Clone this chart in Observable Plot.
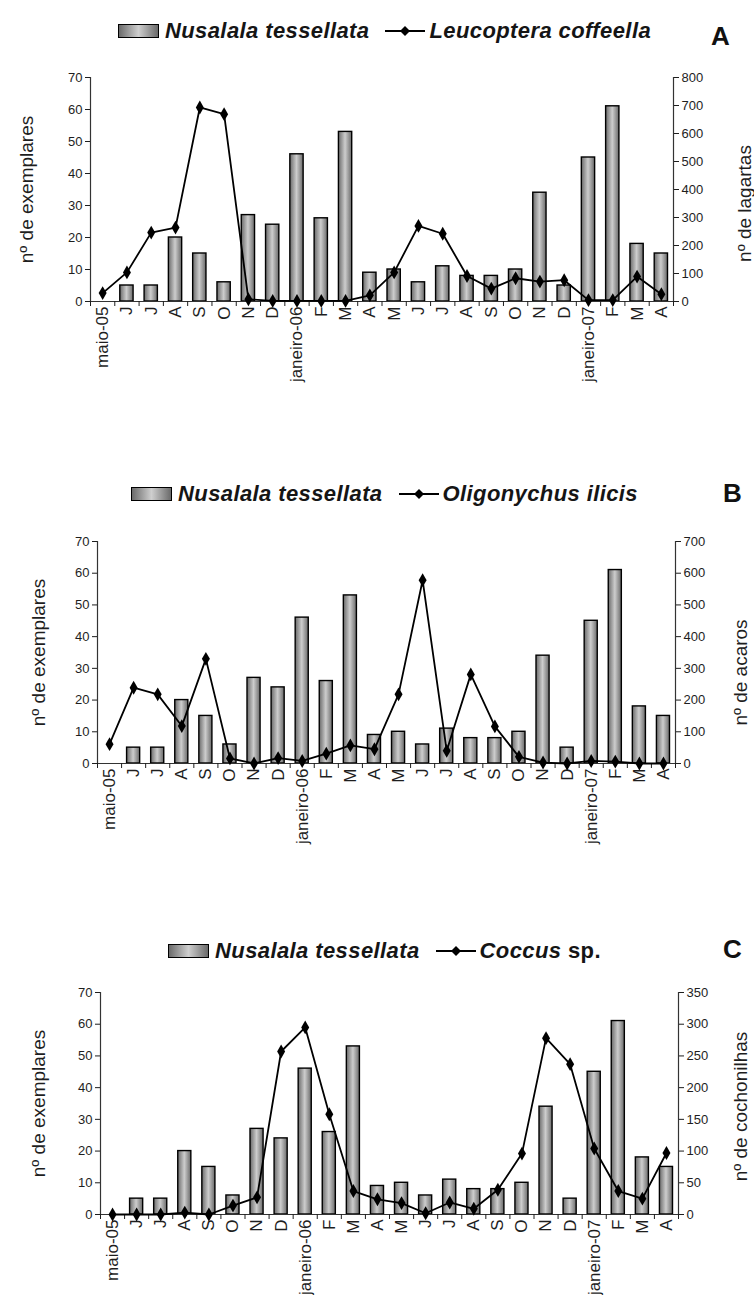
<!DOCTYPE html>
<html>
<head>
<meta charset="utf-8">
<script src="https://cdn.jsdelivr.net/npm/d3@7"></script>
<script src="https://cdn.jsdelivr.net/npm/@observablehq/plot@0.6"></script>
<style>
  body { margin: 0; background: #fff; font-family: "Liberation Sans", Arial, sans-serif; color: #1a1a1a; }
  #root { position: relative; width: 754px; height: 1295px; overflow: hidden; background: #fff; }
  .legend { position: absolute; left: 0; width: 769px; height: 30px; display: flex; justify-content: center; align-items: center;
            font-weight: bold; font-style: italic; font-size: 22px; letter-spacing: 0.4px; color: #151515; white-space: nowrap; }
  .swatch { width: 39px; height: 12px; border: 1.5px solid #000; margin-right: 6px;
            background: linear-gradient(to right, #6a6a6a, #cfcfcf 50%, #6a6a6a); }
  .lsym { margin: 0 4px 0 16px; }
  .letter { position: absolute; font-weight: bold; font-size: 26px; color: #111; }
  .panel { position: absolute; left: 0; }
  .normal { font-style: normal; }
</style>
</head>
<body>
<div id="root"></div>
<script>
// ---- data ----
const months = ["maio-05","J","J","A","S","O","N","D","janeiro-06","F","M","A","M","J","J","A","S","O","N","D","janeiro-07","F","M","A"];
const nusalala = [0,5,5,20,15,6,27,24,46,26,53,9,10,6,11,8,8,10,34,5,45,61,18,15];
const leucoptera = [30,104,246,264,693,669,8,2,2,2,2,22,104,270,242,91,46,83,71,76,5,5,89,26];
const oligonychus = [61,239,218,118,330,16,0,17,8,31,57,45,218,578,40,281,117,21,3,0,8,6,0,0];
const coccus = [0,0,0,3,0,14,27,257,295,158,37,24,18,2,19,9,39,96,278,237,104,37,25,97];

const barName = "Nusalala tessellata";
const leftTitle = "nº de exemplares";

const panels = [
  { letter: "A", pestHtml: "Leucoptera coffeella", values: leucoptera, max: 800, step: 100, rightTitle: "nº de lagartas",
    legendY: 31, letterX: 711, letterY: 37, top: 60, mt: 17, plotH: 224, mb: 100, left: 90, right: 673, ltx: 26, rtx: 744, rdy: 14 },
  { letter: "B", pestHtml: "Oligonychus ilicis", values: oligonychus, max: 700, step: 100, rightTitle: "nº de acaros",
    legendY: 494, letterX: 723, letterY: 494, top: 520, mt: 21, plotH: 222, mb: 95, left: 97, right: 675, ltx: 38, rtx: 740, rdy: 20 },
  { letter: "C", pestHtml: "Coccus <span class='normal'>sp.</span>", values: coccus, max: 350, step: 50, rightTitle: "nº de cochonilhas",
    legendY: 951, letterX: 723, letterY: 950, top: 975, mt: 17, plotH: 222, mb: 80, left: 100, right: 678, ltx: 38, rtx: 740, rdy: 3 }
];

const root = document.getElementById("root");
const W = 754;
const FONT = '"Liberation Sans", Arial, sans-serif';

panels.forEach((cfg, pi) => {
  // legend
  const lg = document.createElement("div");
  lg.className = "legend";
  lg.style.top = (cfg.legendY - 15) + "px";
  lg.innerHTML = `<span class="swatch"></span><span>${barName}</span>` +
    `<svg class="lsym" width="40" height="14"><line x1="0" y1="7" x2="40" y2="7" stroke="#000" stroke-width="1.8"/>` +
    `<path d="M20 2 L25 7 L20 12 L15 7 Z" fill="#000"/></svg><span>${cfg.pestHtml}</span>`;
  root.appendChild(lg);

  const lt = document.createElement("div");
  lt.className = "letter";
  lt.textContent = cfg.letter;
  lt.style.left = cfg.letterX + "px";
  lt.style.top = (cfg.letterY - 16) + "px";
  root.appendChild(lt);

  const k = 70 / cfg.max;
  const data = months.map((m, i) => ({ i, m, n: nusalala[i], p: cfg.values[i] }));
  const gid = "barGrad" + pi;
  const height = cfg.mt + cfg.plotH + cfg.mb;

  const chart = Plot.plot({
    width: W,
    height,
    marginLeft: cfg.left,
    marginRight: W - cfg.right,
    marginTop: cfg.mt,
    marginBottom: cfg.mb,
    x: { domain: [0, 24], axis: null },
    y: { domain: [0, 70], axis: null },
    style: { fontFamily: FONT, background: "transparent", color: "#1e1e1e", overflow: "visible" },
    marks: [
      Plot.rectY(data.filter(d => d.n > 0), {
        x1: d => d.i, x2: d => d.i + 1, y: "n",
        insetLeft: 5.5, insetRight: 5.5,
        fill: `url(#${gid})`, stroke: "#000", strokeWidth: 1.4
      }),
      Plot.ruleX([0, 24], { stroke: "#333", strokeWidth: 1.2 }),
      Plot.ruleY([0], { stroke: "#333", strokeWidth: 1.2 }),
      Plot.axisY({ anchor: "left", ticks: d3.range(0, 71, 10), tickSize: 5, tickPadding: 3, fontSize: 13, label: null }),
      Plot.axisY({
        anchor: "right",
        ticks: d3.range(0, cfg.max + 1, cfg.step).map(v => v * 70 / cfg.max),
        tickFormat: v => String(Math.round(v * cfg.max / 70)),
        tickSize: 5, tickPadding: 3, fontSize: 13, label: null
      }),
      Plot.axisX({ ticks: d3.range(25), tickSize: 5, tickFormat: () => "", label: null }),
      Plot.axisX({
        ticks: d3.range(24).map(i => i + 0.5),
        tickFormat: v => months[Math.floor(v)],
        tickSize: 0, tickPadding: 5, tickRotate: -90, fontSize: 17, label: null
      }),
      Plot.line(data, { x: d => d.i + 0.5, y: d => d.p * k, stroke: "#000", strokeWidth: 1.8 }),
      Plot.dot(data, { x: d => d.i + 0.5, y: d => d.p * k, symbol: "diamond", r: 4.2, fill: "#000", stroke: "none" }),
      Plot.text([leftTitle], { text: d => d, frameAnchor: "left", textAnchor: "middle", dx: cfg.ltx - cfg.left, rotate: -90, fontSize: 19, fill: "#1e1e1e" }),
      Plot.text([cfg.rightTitle], { text: d => d, frameAnchor: "right", textAnchor: "middle", dx: cfg.rtx - cfg.right, dy: cfg.rdy, rotate: -90, fontSize: 19, fill: "#1e1e1e" })
    ]
  });

  // gradient for cylinder-like bar shading
  const ns = "http://www.w3.org/2000/svg";
  const defs = document.createElementNS(ns, "defs");
  const grad = document.createElementNS(ns, "linearGradient");
  grad.setAttribute("id", gid);
  grad.setAttribute("x1", "0"); grad.setAttribute("x2", "1");
  grad.setAttribute("y1", "0"); grad.setAttribute("y2", "0");
  [["0%", "#6a6a6a"], ["50%", "#cdcdcd"], ["100%", "#6a6a6a"]].forEach(([o, c]) => {
    const s = document.createElementNS(ns, "stop");
    s.setAttribute("offset", o); s.setAttribute("stop-color", c);
    grad.appendChild(s);
  });
  defs.appendChild(grad);
  chart.insertBefore(defs, chart.firstChild);

  const wrap = document.createElement("div");
  wrap.className = "panel";
  wrap.style.top = cfg.top + "px";
  wrap.appendChild(chart);
  root.appendChild(wrap);
});
</script>
</body>
</html>
